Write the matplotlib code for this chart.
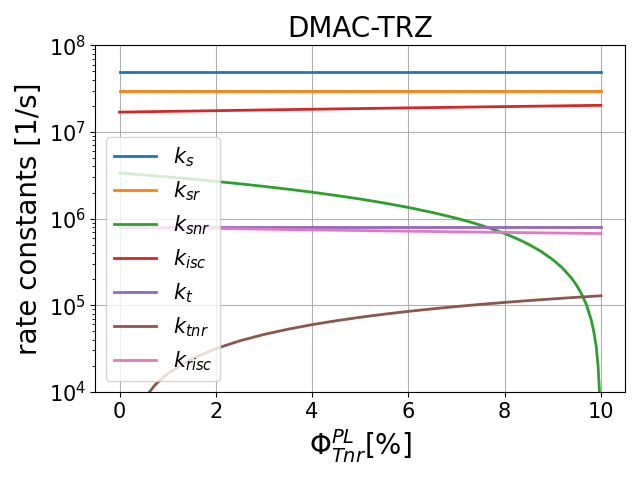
import matplotlib
matplotlib.use('Agg')
import matplotlib.pyplot as plt

# Phi_Tnr^PL in percent
phi = [0, 0.25, 0.5, 0.75, 1, 1.5, 2, 2.5, 3, 3.5, 4, 4.5, 5, 5.5, 6, 6.5, 7,
       7.25, 7.5, 7.75, 8, 8.25, 8.5, 8.75, 9, 9.2, 9.4, 9.5, 9.6, 9.7, 9.8,
       9.85, 9.9, 9.94, 9.97, 9.99, 10]
phi_ends = [0, 10]

# constant rates
k_s = [4.9e7, 4.9e7]
k_sr = [2.95e7, 2.95e7]
k_t = [8.0e5, 8.0e5]

k_snr = [3.36e6, 3.276e6, 3.192e6, 3.108e6, 3.024e6, 2.856e6, 2.688e6, 2.52e6,
         2.352e6, 2.184e6, 2.016e6, 1.848e6, 1.68e6, 1.512e6, 1.344e6, 1.176e6,
         1.008e6, 9.24e5, 8.40e5, 7.56e5, 6.72e5, 5.88e5, 5.04e5, 4.20e5,
         3.36e5, 2.69e5, 2.02e5, 1.68e5, 1.34e5, 1.01e5, 6.7e4, 5.0e4, 3.4e4,
         2.0e4, 1.0e4, 3.4e3, 0]
k_isc = [1.694e7, 1.702e7, 1.711e7, 1.719e7, 1.728e7, 1.744e7, 1.761e7, 1.778e7,
         1.795e7, 1.812e7, 1.828e7, 1.845e7, 1.862e7, 1.879e7, 1.896e7, 1.912e7,
         1.929e7, 1.938e7, 1.946e7, 1.954e7, 1.963e7, 1.971e7, 1.980e7, 1.988e7,
         1.996e7, 2.003e7, 2.010e7, 2.013e7, 2.017e7, 2.020e7, 2.023e7, 2.025e7,
         2.027e7, 2.028e7, 2.029e7, 2.030e7, 2.030e7]
k_tnr = [0, 4.14e3, 8.22e3, 1.224e4, 1.620e4, 2.396e4, 3.149e4, 3.881e4,
         4.594e4, 5.286e4, 5.961e4, 6.617e4, 7.257e4, 7.879e4, 8.486e4, 9.078e4,
         9.655e4, 9.94e4, 1.0218e5, 1.0495e5, 1.0768e5, 1.1037e5, 1.1304e5,
         1.1567e5, 1.1828e5, 1.2034e5, 1.2238e5, 1.2339e5, 1.2440e5, 1.2540e5,
         1.2640e5, 1.2690e5, 1.2740e5, 1.278e5, 1.281e5, 1.283e5, 1.284e5]
k_risc = [8.0e5, 7.959e5, 7.918e5, 7.878e5, 7.838e5, 7.760e5, 7.685e5, 7.612e5,
          7.541e5, 7.471e5, 7.404e5, 7.338e5, 7.274e5, 7.212e5, 7.151e5, 7.092e5,
          7.035e5, 7.006e5, 6.978e5, 6.951e5, 6.923e5, 6.896e5, 6.870e5, 6.843e5,
          6.817e5, 6.797e5, 6.776e5, 6.766e5, 6.756e5, 6.746e5, 6.736e5, 6.731e5,
          6.726e5, 6.722e5, 6.719e5, 6.717e5, 6.716e5]

fig, ax = plt.subplots(figsize=(6.4, 4.8), dpi=100)
ax.plot(phi_ends, k_s, lw=2, label=r'$k_s$')
ax.plot(phi_ends, k_sr, lw=2, label=r'$k_{sr}$')
ax.plot(phi, k_snr, lw=2, label=r'$k_{snr}$')
ax.plot(phi, k_isc, lw=2, label=r'$k_{isc}$')
ax.plot(phi_ends, k_t, lw=2, label=r'$k_t$')
ax.plot(phi, k_tnr, lw=2, label=r'$k_{tnr}$')
ax.plot(phi, k_risc, lw=2, label=r'$k_{risc}$')

ax.set_yscale('log')
ax.set_ylim(1e4, 1e8)
ax.grid(True)
ax.set_title('DMAC-TRZ', fontsize=20)
ax.set_xlabel(r'$\Phi_{Tnr}^{PL}$[%]', fontsize=20)
ax.set_ylabel('rate constants [1/s]', fontsize=20)
ax.tick_params(labelsize=15)
ax.legend(loc='lower left', fontsize=15)
fig.tight_layout()
fig.savefig('out.png')
